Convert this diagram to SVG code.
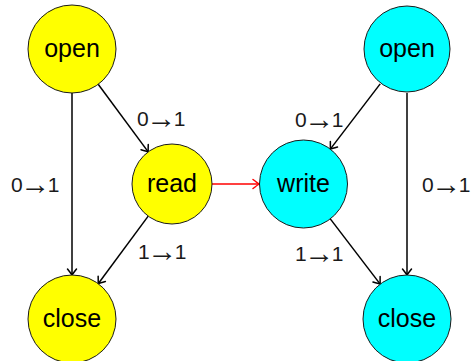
<svg xmlns="http://www.w3.org/2000/svg" width="471" height="361" viewBox="0 0 471 361">
<style>
.node circle{stroke:#1a1a1a;stroke-width:1}
.y circle{fill:#ffff00}
.c circle{fill:#00ffff}
.node text{font-family:"Liberation Sans",Arial,sans-serif;font-size:25px;text-anchor:middle;fill:#000}
.edge{stroke:#000;stroke-width:1.5;fill:none;marker-end:url(#to)}
.red{stroke:#ff0000;marker-end:url(#tored)}
.lbl{font-family:"Liberation Sans",Arial,sans-serif;font-size:21px;text-anchor:middle;fill:#1a1a1a;letter-spacing:-2.5px}
.ar{font-size:30px}
</style>
<defs>
<marker id="to" markerUnits="userSpaceOnUse" markerWidth="14" markerHeight="14" viewBox="-10 -7 12 14" refX="0" refY="0" orient="auto">
<path d="M-6,-4.5 Q-1.5,-1 0,0 Q-1.5,1 -6,4.5" fill="none" stroke="#000" stroke-width="1.5" stroke-linecap="round"/>
</marker>
<marker id="tored" markerUnits="userSpaceOnUse" markerWidth="14" markerHeight="14" viewBox="-10 -7 12 14" refX="0" refY="0" orient="auto">
<path d="M-6,-4.5 Q-1.5,-1 0,0 Q-1.5,1 -6,4.5" fill="none" stroke="#ff0000" stroke-width="1.5" stroke-linecap="round"/>
</marker>
</defs>
<g id="connectors">
<line class="edge" x1="72" y1="93" x2="72" y2="275"/>
<line class="edge" x1="98.2" y1="84.3" x2="148.2" y2="151.9"/>
<line class="edge" x1="148.2" y1="216.1" x2="98.2" y2="283.7"/>
<line class="edge red" x1="212" y1="184" x2="259" y2="184"/>
<line class="edge" x1="380.2" y1="83.9" x2="330.3" y2="149.1"/>
<line class="edge" x1="330.3" y1="218.9" x2="380.2" y2="284.1"/>
<line class="edge" x1="407" y1="93" x2="407" y2="275"/>
<text class="lbl" x="34" y="192">0<tspan class="ar" dy="2">→</tspan><tspan dy="-2">1</tspan></text>
<text class="lbl" x="160" y="126">0<tspan class="ar" dy="2">→</tspan><tspan dy="-2">1</tspan></text>
<text class="lbl" x="161" y="259">1<tspan class="ar" dy="2">→</tspan><tspan dy="-2">1</tspan></text>
<text class="lbl" x="318" y="127">0<tspan class="ar" dy="2">→</tspan><tspan dy="-2">1</tspan></text>
<text class="lbl" x="445" y="192">0<tspan class="ar" dy="2">→</tspan><tspan dy="-2">1</tspan></text>
<text class="lbl" x="318" y="261">1<tspan class="ar" dy="2">→</tspan><tspan dy="-2">1</tspan></text>
</g>
<g id="open1" class="node y"><circle cx="72" cy="49" r="44"/><text x="72" y="57">open</text></g>
<g id="read" class="node y"><circle cx="172" cy="184" r="40"/><text x="172" y="192">read</text></g>
<g id="close1" class="node y"><circle cx="72" cy="319" r="44"/><text x="72" y="327">close</text></g>
<g id="open2" class="node c"><circle cx="407" cy="49" r="43"/><text x="407" y="57">open</text></g>
<g id="write" class="node c"><circle cx="303.5" cy="184" r="44"/><text x="303.5" y="192">write</text></g>
<g id="close2" class="node c"><circle cx="407" cy="319" r="44"/><text x="407" y="327">close</text></g>
</svg>
